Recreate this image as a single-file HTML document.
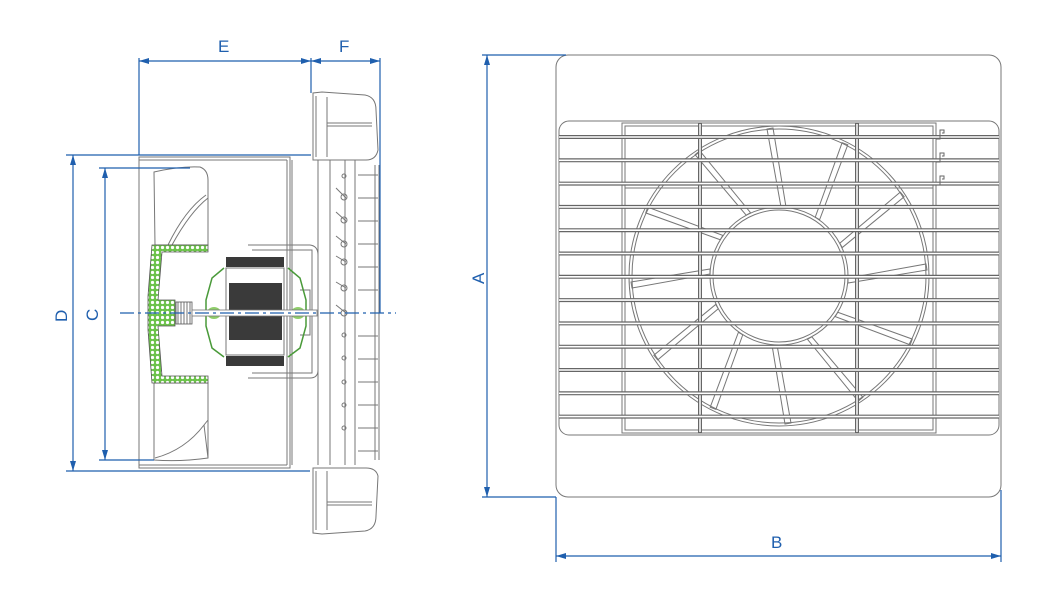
<!DOCTYPE html>
<html><head><meta charset="utf-8"><style>
html,body{margin:0;padding:0;background:#fff}
svg{display:block}
text{font-family:"Liberation Sans",sans-serif;fill:#1f5fae;font-size:17px}
</style></head><body>
<svg width="1063" height="591" viewBox="0 0 1063 591" xmlns="http://www.w3.org/2000/svg">
<defs>
<pattern id="hatch" width="5" height="5" patternUnits="userSpaceOnUse">
<rect width="5" height="5" fill="#6cc24a"/><circle cx="2.5" cy="2.5" r="1.6" fill="#fff"/>
</pattern>
</defs>

<!-- ============ LEFT SIDE VIEW ============ -->
<g fill="none" stroke="#777" stroke-width="1">
  <!-- housing body -->
  <rect x="139" y="157" width="151" height="311"/>
  <line x1="287" y1="160" x2="287" y2="465"/>
  <line x1="292" y1="160" x2="292" y2="465"/>
  <line x1="139" y1="160" x2="287" y2="160"/>
  <line x1="139" y1="465" x2="287" y2="465"/>
  <!-- flange inner verticals -->
  <line x1="318" y1="160" x2="318" y2="465"/>
  <line x1="330" y1="160" x2="330" y2="465"/>
  <line x1="345" y1="160" x2="345" y2="465"/>
  <line x1="355" y1="160" x2="355" y2="465"/>
  <line x1="375" y1="165" x2="375" y2="460"/>
  <line x1="379" y1="165" x2="379" y2="460"/>
  <!-- top flange -->
  <path d="M313 160 L313 93 L322 92 L365 95 Q376 97 376 110 L378 150 Q376 160 366 160 Z"/>
  <path d="M316 157 L316 96 M327 97 L327 157 M327 123 L372 123 M327 126 L372 126"/>
  <!-- bottom flange -->
  <path d="M313 468 L313 533 L322 534 L365 531 Q376 529 376 516 L378 476 Q376 468 366 468 Z"/>
  <path d="M316 471 L316 530 M327 471 L327 530 M327 502 L372 502 M327 505 L372 505"/>
  <!-- grille ticks -->
  <g>
    <line x1="358" y1="175" x2="378" y2="175"/><line x1="358" y1="198" x2="378" y2="198"/>
    <line x1="358" y1="221" x2="378" y2="221"/><line x1="358" y1="244" x2="378" y2="244"/>
    <line x1="358" y1="267" x2="378" y2="267"/><line x1="358" y1="290" x2="378" y2="290"/>
    <line x1="358" y1="336" x2="378" y2="336"/><line x1="358" y1="359" x2="378" y2="359"/>
    <line x1="358" y1="382" x2="378" y2="382"/><line x1="358" y1="405" x2="378" y2="405"/>
    <line x1="358" y1="428" x2="378" y2="428"/><line x1="358" y1="451" x2="378" y2="451"/>
  </g>
  <!-- louvre circles -->
  <circle cx="344" cy="176" r="2"/><circle cx="344" cy="197" r="3"/><circle cx="344" cy="220" r="3"/>
  <circle cx="344" cy="244" r="3"/><circle cx="344" cy="262" r="3"/><circle cx="344" cy="288" r="3"/>
  <circle cx="344" cy="313" r="3"/><circle cx="344" cy="335" r="2"/><circle cx="344" cy="358" r="2"/>
  <circle cx="344" cy="382" r="2"/><circle cx="344" cy="405" r="2"/><circle cx="344" cy="428" r="2"/>
  <path d="M336 188 L346 198 M336 212 L346 221 M336 236 L346 244 M336 256 L346 262 M336 282 L346 288 M336 305 L346 313"/>
  <!-- fan blades -->
  <path d="M154 172 Q180 166 200 167 Q208 170 208 180 L208 245 L155 245 Z"/>
  <path d="M168 245 Q185 210 206 195 M172 245 Q190 212 208 198"/>
  <path d="M154 383 L208 383 L208 458 Q180 462 154 460 Z"/>
  <path d="M155 458 Q185 450 204 425 L208 458 M204 425 L208 420"/>
  <!-- motor bracket -->
  <path d="M248 245 L310 245 Q318 246 318 255 L318 370 Q318 378 310 378 L248 378"/>
  <path d="M252 250 L312 250 L312 373 L252 373"/>
  <path d="M300 290 L310 290 L310 335 L300 335"/>
</g>
<!-- hub green -->
<path d="M152 245 L208 245 L208 252 L162 252 L158 300 L175 300 L175 326 L158 326 L162 376 L208 376 L208 383 L152 383 L148 330 L148 296 Z" fill="url(#hatch)" stroke="#555" stroke-width="0.8"/>
<rect x="176" y="302" width="16" height="22" fill="#fff" stroke="#555" stroke-width="0.8"/>
<path d="M178 302 V324 M181 302 V324 M184 302 V324 M187 302 V324 M190 302 V324" stroke="#555" stroke-width="0.8"/>
<!-- motor -->
<rect x="226" y="257" width="58" height="10" fill="#3a3a3a"/>
<rect x="226" y="356" width="58" height="10" fill="#3a3a3a"/>
<rect x="226" y="268" width="58" height="87" fill="#fff" stroke="#777" stroke-width="1"/>
<rect x="229" y="283" width="53" height="57" fill="#3a3a3a"/>
<path d="M224 268 L212 278 L206 300 L206 326 L212 348 L224 357" fill="none" stroke="#4a9a3a" stroke-width="1.5"/>
<path d="M288 268 L300 278 L306 300 L306 326 L300 348 L288 357" fill="none" stroke="#4a9a3a" stroke-width="1.5"/>
<ellipse cx="214" cy="313" rx="7" ry="6" fill="#8fce6a"/>
<ellipse cx="298" cy="313" rx="7" ry="6" fill="#8fce6a"/>
<rect x="192" y="310" width="125" height="6" fill="#fff" stroke="#777" stroke-width="0.8"/>

<!-- ============ LEFT DIMENSIONS ============ -->
<g stroke="#1f5fae" stroke-width="1.2" fill="none">
  <line x1="139" y1="58" x2="139" y2="155"/>
  <line x1="311" y1="58" x2="311" y2="93"/>
  <line x1="380" y1="58" x2="380" y2="313"/>
  <line x1="139" y1="61" x2="311" y2="61"/>
  <line x1="311" y1="61" x2="380" y2="61"/>
  <line x1="66" y1="155" x2="311" y2="155"/>
  <line x1="66" y1="471" x2="310" y2="471"/>
  <line x1="73" y1="155" x2="73" y2="471"/>
  <line x1="99" y1="168" x2="190" y2="168"/>
  <line x1="99" y1="460" x2="154" y2="460"/>
  <line x1="105" y1="168" x2="105" y2="460"/>
  <line x1="120" y1="313" x2="396" y2="313" stroke-dasharray="14,4,3,4"/>
</g>
<g fill="#1f5fae">
  <path d="M139 61 l10 -3 v6 z"/><path d="M311 61 l-10 -3 v6 z"/>
  <path d="M311 61 l10 -3 v6 z"/><path d="M380 61 l-10 -3 v6 z"/>
  <path d="M73 155 l-3 10 h6 z"/><path d="M73 471 l-3 -10 h6 z"/>
  <path d="M105 168 l-3 10 h6 z"/><path d="M105 460 l-3 -10 h6 z"/>
</g>
<text x="218" y="52">E</text>
<text x="339" y="52">F</text>
<text transform="translate(67,322) rotate(-90)">D</text>
<text transform="translate(98,321) rotate(-90)">C</text>

<!-- ============ RIGHT FRONT VIEW ============ -->
<g fill="none" stroke="#777" stroke-width="1">
  <rect x="556" y="55" width="445" height="442" rx="12"/>
  <rect x="559" y="121" width="440" height="314" rx="10"/>
  <rect x="622" y="123" width="314" height="310"/>
  <rect x="625" y="126" width="308" height="304"/>
  <rect x="625" y="126" width="308" height="62"/>
  <circle cx="779" cy="276" r="150"/>
  <circle cx="779" cy="276" r="147"/>
  <circle cx="779" cy="276" r="69"/>
  <circle cx="779" cy="276" r="66"/>
</g>
<g fill="none" stroke="#777" stroke-width="1" transform="translate(779,276)">
  <g id="bl"><polygon points="2,-69 7,-69 -6,-148 -12,-147"/></g>
  <use href="#bl" transform="rotate(30)"/><use href="#bl" transform="rotate(60)"/>
  <use href="#bl" transform="rotate(90)"/><use href="#bl" transform="rotate(120)"/>
  <use href="#bl" transform="rotate(150)"/><use href="#bl" transform="rotate(180)"/>
  <use href="#bl" transform="rotate(210)"/><use href="#bl" transform="rotate(240)"/>
  <use href="#bl" transform="rotate(270)"/><use href="#bl" transform="rotate(300)"/>
  <use href="#bl" transform="rotate(330)"/>
</g>
<!-- vertical bars -->
<g stroke="#666" stroke-width="4"><line x1="700" y1="123" x2="700" y2="433"/><line x1="857" y1="123" x2="857" y2="433"/></g>
<g stroke="#fff" stroke-width="1.5"><line x1="700" y1="124" x2="700" y2="432"/><line x1="857" y1="124" x2="857" y2="432"/></g>
<!-- horizontal bars -->
<g stroke="#666" stroke-width="4">
  <line x1="559" y1="137" x2="999" y2="137"/><line x1="559" y1="160.3" x2="999" y2="160.3"/>
  <line x1="559" y1="183.6" x2="999" y2="183.6"/><line x1="559" y1="206.9" x2="999" y2="206.9"/>
  <line x1="559" y1="230.2" x2="999" y2="230.2"/><line x1="559" y1="253.5" x2="999" y2="253.5"/>
  <line x1="559" y1="276.8" x2="999" y2="276.8"/><line x1="559" y1="300.1" x2="999" y2="300.1"/>
  <line x1="559" y1="323.4" x2="999" y2="323.4"/><line x1="559" y1="346.7" x2="999" y2="346.7"/>
  <line x1="559" y1="370" x2="999" y2="370"/><line x1="559" y1="393.3" x2="999" y2="393.3"/>
  <line x1="559" y1="416.6" x2="999" y2="416.6"/>
</g>
<g stroke="#fff" stroke-width="1.6">
  <line x1="559" y1="137" x2="999" y2="137"/><line x1="559" y1="160.3" x2="999" y2="160.3"/>
  <line x1="559" y1="183.6" x2="999" y2="183.6"/><line x1="559" y1="206.9" x2="999" y2="206.9"/>
  <line x1="559" y1="230.2" x2="999" y2="230.2"/><line x1="559" y1="253.5" x2="999" y2="253.5"/>
  <line x1="559" y1="276.8" x2="999" y2="276.8"/><line x1="559" y1="300.1" x2="999" y2="300.1"/>
  <line x1="559" y1="323.4" x2="999" y2="323.4"/><line x1="559" y1="346.7" x2="999" y2="346.7"/>
  <line x1="559" y1="370" x2="999" y2="370"/><line x1="559" y1="393.3" x2="999" y2="393.3"/>
  <line x1="559" y1="416.6" x2="999" y2="416.6"/>
</g>
<!-- hooks -->
<g fill="none" stroke="#666" stroke-width="1">
  <path d="M936 139 h4 v-9 h4 v3 h-2"/><path d="M936 162 h4 v-9 h4 v3 h-2"/><path d="M936 185 h4 v-9 h4 v3 h-2"/>
</g>

<!-- ============ RIGHT DIMENSIONS ============ -->
<g stroke="#1f5fae" stroke-width="1.2" fill="none">
  <line x1="482" y1="55" x2="566" y2="55"/>
  <line x1="482" y1="497" x2="556" y2="497"/>
  <line x1="487" y1="55" x2="487" y2="497"/>
  <line x1="556" y1="497" x2="556" y2="562"/>
  <line x1="1001" y1="490" x2="1001" y2="562"/>
  <line x1="556" y1="556" x2="1001" y2="556"/>
</g>
<g fill="#1f5fae">
  <path d="M487 55 l-3 10 h6 z"/><path d="M487 497 l-3 -10 h6 z"/>
  <path d="M556 556 l10 -3 v6 z"/><path d="M1001 556 l-10 -3 v6 z"/>
</g>
<text transform="translate(484,284) rotate(-90)">A</text>
<text x="771" y="548">B</text>
</svg>
</body></html>
